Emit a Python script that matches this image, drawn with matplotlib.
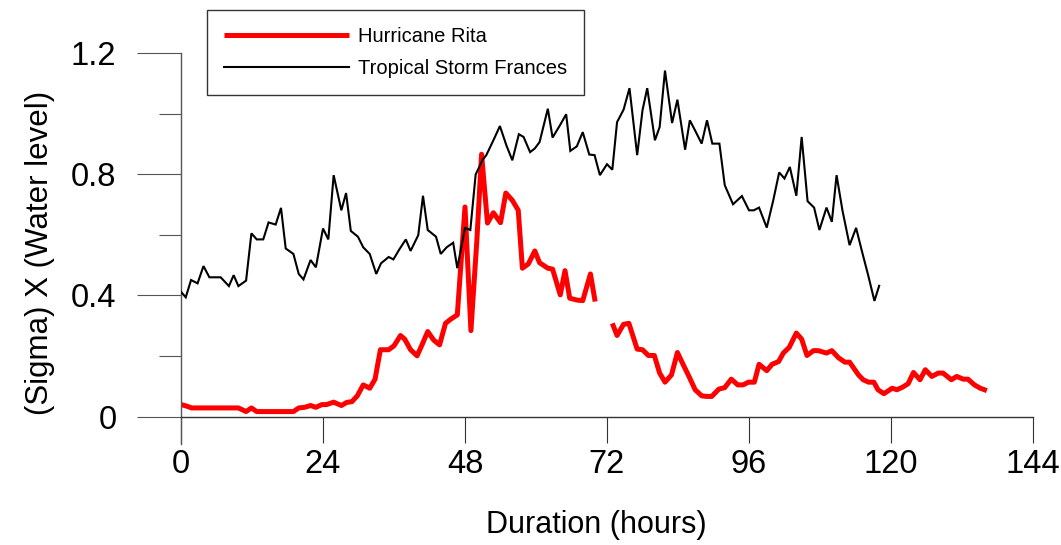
import matplotlib
matplotlib.use('Agg')
import matplotlib.pyplot as plt
import numpy as np
from matplotlib.ticker import FixedLocator

plt.rcParams['font.family'] = ['Liberation Sans', 'DejaVu Sans']

# ---- data ----
rita_hours = [0.0, 0.8, 1.8, 2.8, 3.8, 4.9, 5.9, 6.9, 7.9, 8.8, 9.7, 11.0, 11.9, 12.8,
              13.8, 14.8, 15.8, 16.8, 17.9, 19.0, 19.9, 20.9, 21.9, 22.8, 23.8, 24.6,
              25.8, 27.1, 28.0, 28.9, 29.8, 30.8, 31.9, 32.8, 33.7, 35.1, 36.0, 37.1,
              37.8, 38.8, 39.9, 40.8, 41.7, 42.7, 43.7, 44.7, 45.6, 46.7, 48.0, 49.0,
              50.0, 50.8, 51.8, 52.8, 54.0, 54.9, 56.0, 57.0, 57.7, 58.7, 59.8, 60.6,
              62.0, 62.8, 64.1, 64.9, 65.7, 66.9, 67.9, 69.2, 70.0, 71.0,
              72.9, 73.7, 74.8, 75.7, 77.1, 78.0, 79.0, 80.0, 80.9, 81.8, 82.9, 83.9,
              84.9, 85.9, 86.9, 88.0, 88.8, 89.7, 90.9, 91.9, 93.0, 94.1, 95.0, 95.9,
              96.9, 97.7, 99.0, 99.9, 101.0, 101.8, 102.8, 104.0, 104.9, 105.8, 106.9,
              107.7, 108.4, 109.1, 110.0, 111.1, 112.2, 113.0, 114.5, 115.3, 116.2,
              117.1, 117.8, 118.8, 120.2, 121.0, 122.0, 122.9, 123.8, 124.9, 125.8,
              126.9, 128.0, 128.8, 130.2, 131.1, 132.2, 133.0, 134.1, 135.1, 136.2]
rita_sigma = [0.040, 0.036, 0.029, 0.029, 0.029, 0.029, 0.029, 0.029, 0.029, 0.029, 0.029,
              0.017, 0.029, 0.017, 0.017, 0.017, 0.017, 0.017, 0.017, 0.017, 0.029,
              0.031, 0.037, 0.031, 0.040, 0.040, 0.048, 0.037, 0.047, 0.050, 0.069,
              0.105, 0.094, 0.124, 0.221, 0.221, 0.234, 0.268, 0.256, 0.221, 0.201,
              0.240, 0.281, 0.253, 0.237, 0.308, 0.322, 0.336, 0.692, 0.284, 0.580,
              0.866, 0.639, 0.673, 0.640, 0.738, 0.714, 0.681, 0.490, 0.504, 0.547,
              0.508, 0.490, 0.487, 0.402, 0.482, 0.391, 0.385, 0.383, 0.471, 0.380,
              np.nan,
              0.308, 0.268, 0.305, 0.308, 0.223, 0.221, 0.202, 0.202, 0.144, 0.114,
              0.138, 0.212, 0.171, 0.131, 0.089, 0.069, 0.067, 0.067, 0.091, 0.096,
              0.124, 0.105, 0.105, 0.114, 0.114, 0.173, 0.152, 0.173, 0.182, 0.210,
              0.229, 0.276, 0.256, 0.202, 0.218, 0.218, 0.214, 0.210, 0.218, 0.195,
              0.180, 0.180, 0.138, 0.122, 0.114, 0.114, 0.089, 0.076, 0.094, 0.089,
              0.098, 0.109, 0.146, 0.122, 0.155, 0.133, 0.144, 0.144, 0.122, 0.133,
              0.124, 0.124, 0.105, 0.094, 0.086]

frances_hours = [0.0, 0.8, 1.7, 2.8, 3.8, 4.8, 5.8, 6.7, 8.1, 8.9, 9.7, 11.0, 11.9, 12.8,
                 13.9, 14.8, 16.0, 16.9, 17.7, 19.0, 19.9, 20.7, 21.9, 22.8, 24.0, 24.9,
                 25.8, 27.1, 27.9, 28.7, 29.9, 30.8, 31.9, 33.0, 33.8, 35.1, 35.9, 36.9,
                 38.0, 38.8, 40.1, 40.9, 41.7, 43.1, 43.9, 44.9, 46.0, 46.7, 48.0, 48.9,
                 49.8, 51.0, 51.6, 52.8, 53.9, 55.0, 56.0, 57.1, 57.9, 59.0, 59.8, 60.6,
                 62.0, 62.8, 64.0, 65.1, 65.8, 66.9, 67.9, 69.0, 69.9, 70.8, 72.0, 72.9,
                 73.7, 74.8, 75.8, 77.1, 78.0, 78.8, 80.1, 80.9, 81.8, 83.0, 83.9, 85.2,
                 86.0, 87.0, 88.0, 88.9, 89.8, 91.0, 91.9, 93.3, 94.8, 96.0, 96.8, 97.7,
                 99.0, 100.1, 101.1, 102.0, 102.9, 104.0, 104.9, 105.9, 107.0, 107.9,
                 109.1, 110.0, 110.8, 111.8, 113.0, 114.1, 115.1, 116.1, 117.2, 118.0]
frances_sigma = [0.412, 0.394, 0.451, 0.440, 0.497, 0.460, 0.460, 0.460, 0.431, 0.467,
                 0.431, 0.449, 0.605, 0.585, 0.585, 0.641, 0.634, 0.689, 0.555, 0.537,
                 0.471, 0.453, 0.517, 0.493, 0.621, 0.585, 0.797, 0.681, 0.738, 0.613,
                 0.594, 0.559, 0.537, 0.471, 0.506, 0.527, 0.519, 0.552, 0.585, 0.547,
                 0.599, 0.729, 0.616, 0.594, 0.537, 0.559, 0.574, 0.490, 0.623, 0.616,
                 0.799, 0.848, 0.863, 0.912, 0.959, 0.895, 0.846, 0.932, 0.923, 0.873,
                 0.885, 0.906, 1.016, 0.921, 0.960, 0.998, 0.877, 0.892, 0.939, 0.865,
                 0.863, 0.797, 0.833, 0.815, 0.972, 1.013, 1.084, 0.863, 1.011, 1.084,
                 0.912, 0.956, 1.142, 0.969, 1.046, 0.881, 0.978, 0.940, 0.901, 0.978,
                 0.901, 0.901, 0.764, 0.701, 0.728, 0.681, 0.681, 0.690, 0.624, 0.714,
                 0.806, 0.786, 0.824, 0.729, 0.923, 0.711, 0.690, 0.616, 0.690, 0.643,
                 0.797, 0.680, 0.566, 0.623, 0.545, 0.470, 0.382, 0.432]

x_ticks = [0, 24, 48, 72, 96, 120, 144]
y_major = [0, 0.4, 0.8, 1.2]
y_minor = [0.2, 0.6, 1.0]
y_labels = ['0', '0.4', '0.8', '1.2']
series_labels = ['Hurricane Rita', 'Tropical Storm Frances']
x_title = 'Duration (hours)'
y_title = '(Sigma) X (Water level)'

# ---- figure ----
fig = plt.figure(figsize=(10.61, 5.45), dpi=100)
ax = fig.add_axes([181/1061, 1 - 444/545, (1033 - 181)/1061, (444 - 53)/545])

l_rita, = ax.plot(rita_hours, rita_sigma, color='#ff0000', lw=3.6, zorder=2,
                  solid_joinstyle='round', solid_capstyle='butt')
l_fr, = ax.plot(frances_hours, frances_sigma, color='black', lw=1.5, zorder=3,
                solid_joinstyle='miter')

ax.set_xlim(0, 144)
ax.set_ylim(-0.09, 1.2)

for s in ['top', 'right']:
    ax.spines[s].set_visible(False)
ax.spines['bottom'].set_position(('data', 0))
ax.spines['bottom'].set_bounds(0, 144)
ax.spines['left'].set_color('#555555')
ax.spines['bottom'].set_color('#333333')
ax.spines['left'].set_linewidth(1.0)
ax.spines['bottom'].set_linewidth(1.0)

ax.xaxis.set_major_locator(FixedLocator(x_ticks))
ax.set_xticklabels([str(v) for v in x_ticks])
ax.yaxis.set_major_locator(FixedLocator(y_major))
ax.yaxis.set_minor_locator(FixedLocator(y_minor))
ax.set_yticklabels(y_labels)

ax.tick_params(axis='x', which='major', direction='out', length=19, width=0.8,
               color='#333333', labelsize=23.5, pad=4)
ax.tick_params(axis='y', which='major', direction='out', length=31.5, width=0.8,
               color='#555555', labelsize=23.5, pad=15)
ax.tick_params(axis='y', which='minor', direction='out', length=15.8, width=0.8,
               color='#555555')

ax.set_xlabel(x_title, fontsize=22)
ax.xaxis.set_label_coords(0.488, -0.17)
ax.set_ylabel(y_title, fontsize=22.5)
ax.yaxis.set_label_coords(-0.148, 0.49)

leg = fig.legend([l_rita, l_fr], series_labels, loc='upper left',
                 bbox_to_anchor=(207/1061, 1 - 10/545), bbox_transform=fig.transFigure,
                 fontsize=14.5, handlelength=6.2, handletextpad=0.45, borderpad=0.85,
                 labelspacing=0.62, fancybox=False, framealpha=1, edgecolor='#333333',
                 borderaxespad=0)
leg.get_frame().set_linewidth(1.0)

fig.savefig('out.png', dpi=100)
